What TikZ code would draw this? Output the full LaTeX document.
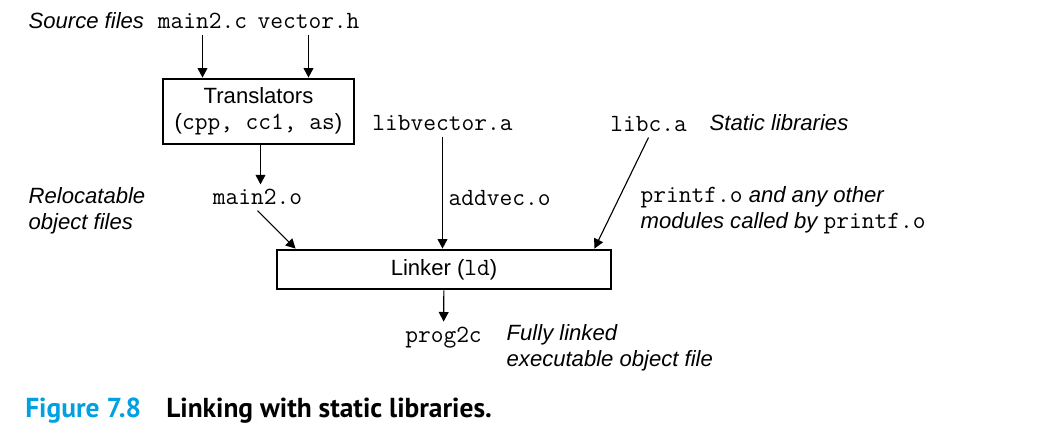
\documentclass[tikz,border=0pt]{standalone}
\usepackage{fontspec}
\setmainfont{Liberation Sans}
\newfontfamily\capfont{PT Sans}
\usetikzlibrary{arrows.meta}
\definecolor{figblue}{RGB}{0,160,226}

\newcommand{\fname}[1]{{\fontsize{17.6}{18.5}\selectfont\ttfamily\upshape #1}}

\begin{document}
\begin{tikzpicture}[x=0.025cm, y=-0.025cm,
    font=\fontsize{15.7}{18.5}\selectfont,
    arr/.style={-{Triangle[length=6.8pt,width=7pt]}, line width=0.8pt},
    box/.style={draw, line width=2pt, inner sep=0pt, align=center},
    txt/.style={inner sep=1pt, align=left}]
    \useasboundingbox (0,0) rectangle (1058,442);

    % Source files
    \node[txt, anchor=west] (srclbl) at (27,21) {\itshape Source files};
    \node[txt, inner sep=4pt] (mainc) at (202.5,21) {\fname{main2.c}};
    \node[txt, inner sep=4pt] (vech) at (308.5,21) {\fname{vector.h}};

    % Translators
    \node[box, minimum width=4.775cm, minimum height=1.625cm] (trans) at (258.5,111.5)
        {Translators\\(\fname{cpp, cc1, as})};
    \draw[arr] (mainc) -- (mainc |- trans.north);
    \draw[arr] (vech) -- (vech |- trans.north);

    % Relocatable object files
    \node[txt, anchor=west] (relo) at (27,210.5) {\itshape Relocatable\\\itshape object files};
    \node[txt, inner sep=4pt] (mainobj) at (257.5,197) {\fname{main2.o}};
    \draw[arr] (trans.south -| mainobj) ++(3,0) -- ++(0,39);

    % Static libraries
    \node[txt, inner sep=4pt] (libvec) at (442.5,123) {\fname{libvector.a}};
    \node[txt, inner sep=4pt] (libc) at (648.5,124) {\fname{libc.a}};
    \node[txt, anchor=west] (statlbl) at (708,123) {\itshape Static libraries};
    \node[txt, anchor=west] (addvec) at (447,198) {\fname{addvec.o}};
    \node[txt, anchor=west] (printf) at (639,210.5)
        {\fname{printf.o} \itshape and any other\\\itshape modules called by \fname{printf.o}};

    % Linker
    \node[box, minimum width=8.35cm, minimum height=0.975cm] (linker) at (444,269.5)
        {Linker (\fname{ld})};
    \draw[arr] (mainobj.south) -- ([shift={(20,0)}]linker.north west);
    \draw[arr] (libvec) -- (libvec |- linker.north);
    \draw[arr] (libc.south) -- ([shift={(-18,0)}]linker.north east);

    % Executable
    \node[txt, inner sep=4pt] (prog) at (443.5,338) {\fname{prog2c}};
    \node[txt, anchor=west] (fully) at (505,347.5) {\itshape Fully linked\\\itshape executable object file};
    \draw[arr] (linker) -- (prog);

    % Caption
    \node[anchor=west, inner sep=0pt, text=figblue] (fignum) at (25,411)
        {\capfont\bfseries\fontsize{19.5}{22}\selectfont Figure 7.8};
    \node[anchor=west, inner sep=0pt] (figtitle) at (166,411)
        {\capfont\bfseries\fontsize{19.5}{22}\selectfont Linking with static libraries.};
\end{tikzpicture}
\end{document}
